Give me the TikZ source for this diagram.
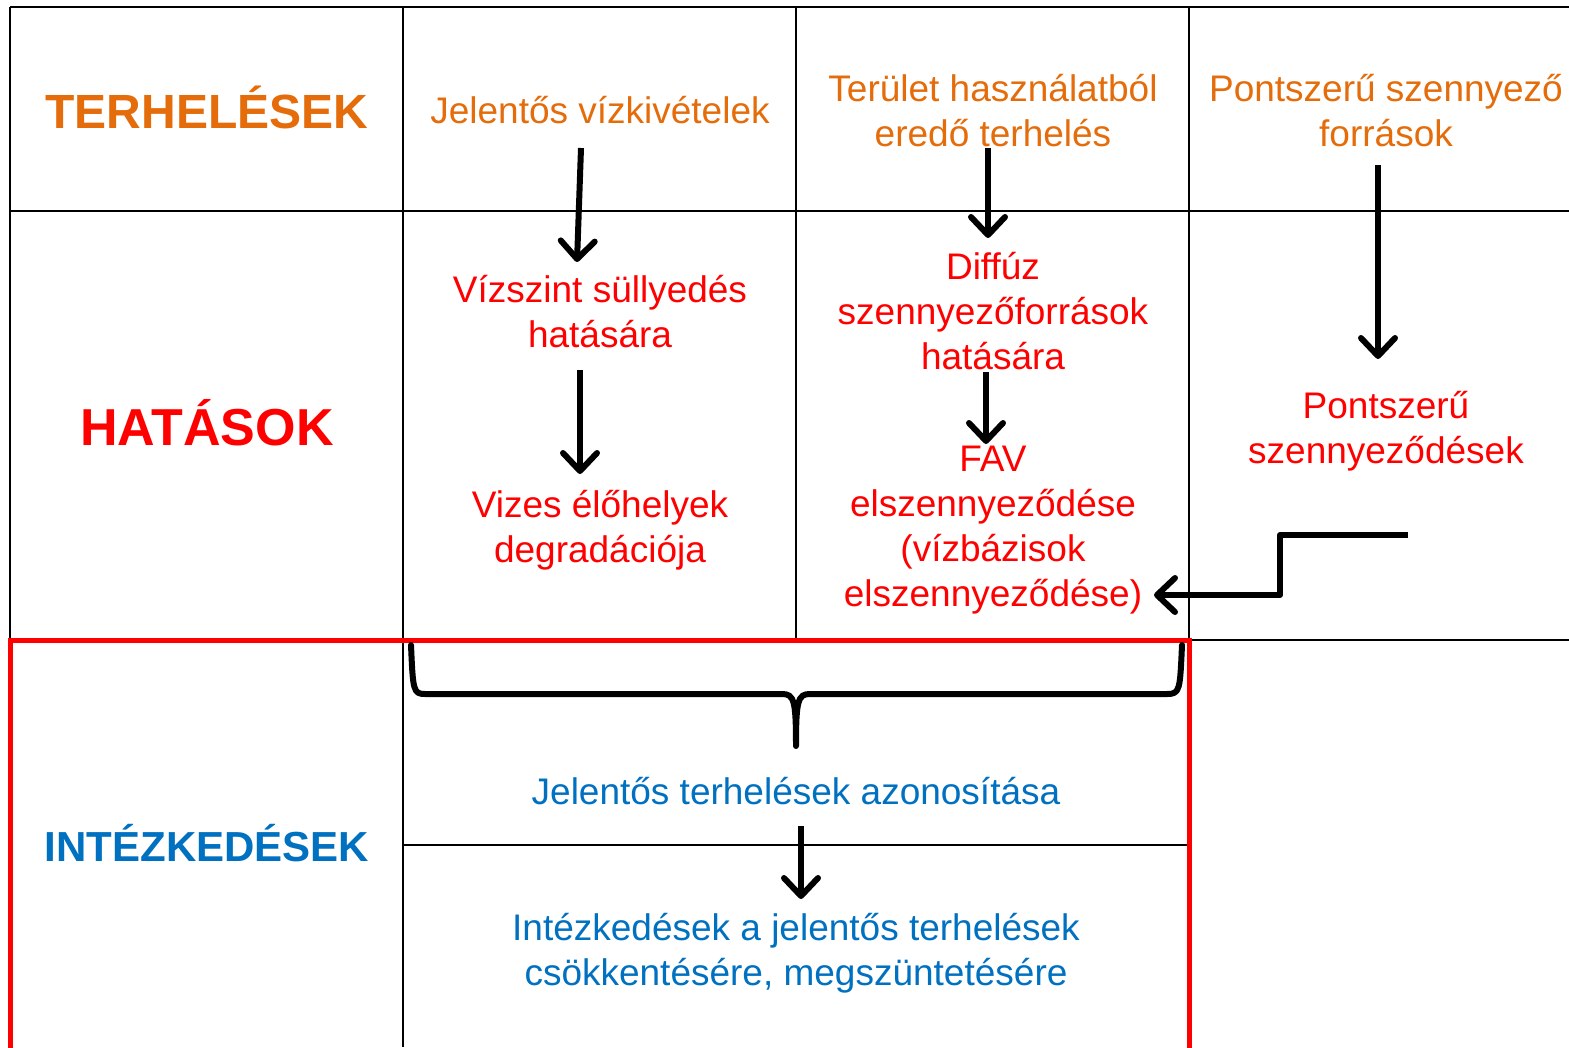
\documentclass[tikz,border=0pt]{standalone}
\usepackage{fontspec}
\setmainfont{Liberation Sans}
\usetikzlibrary{arrows.meta}
\definecolor{terhorange}{HTML}{E46C0A}
\definecolor{hatred}{HTML}{FF0000}
\definecolor{intblue}{HTML}{0070C0}

\begin{document}
\begin{tikzpicture}[x=1pt, y=-1pt,
        gridline/.style={line width=2pt},
        header/.style={inner sep=0pt, font=\bfseries\fontsize{48}{58}\selectfont},
        cell/.style={inner sep=0pt, align=center, font=\fontsize{37}{45}\selectfont},
        arr/.style={line width=6pt, line join=round, -{Straight Barb[length=18pt,width=34pt,round]}}]
        \useasboundingbox (0,0) rectangle (1569,1047);

        % table
        \draw[gridline] (10,7) -- (1569,7);
        \draw[gridline] (10,211) -- (1569,211);
        \draw[gridline] (1189,640) -- (1569,640);
        \draw[gridline] (403,845) -- (1189,845);
        \draw[gridline] (10,7) -- (10,640);
        \draw[gridline] (403,7) -- (403,1047);
        \draw[gridline] (796,7) -- (796,640);
        \draw[gridline] (1189,7) -- (1189,640);
        \draw[hatred, line width=5pt] (10,1060) -- (10,640) -- (1189,640) -- (1189,1060);

        % row headers
        \node[header, text=terhorange] (terh) at (207,107) {TERHELÉSEK};
        \node[header, text=hatred, font=\bfseries\fontsize{52}{62}\selectfont] (hat) at (207,423) {HATÁSOK};
        \node[header, text=intblue, font=\bfseries\fontsize{42}{50}\selectfont] (intez) at (207,843) {INTÉZKEDÉSEK};

        % terhelesek
        \node[cell, text=terhorange] (vizkiv) at (600,110) {Jelentős vízkivételek};
        \node[cell, text=terhorange] (terulet) at (993,111) {Terület használatból\\eredő terhelés};
        \node[cell, text=terhorange] (pontforr) at (1386,111) {Pontszerű szennyező\\források};

        % hatasok
        \node[cell, text=hatred] (vizszint) at (600,312) {Vízszint süllyedés\\hatására};
        \node[cell, text=hatred] (vizes) at (600,530) {Vizes élőhelyek\\degradációja};
        \node[cell, text=hatred] (diffuz) at (993,311) {Diffúz\\szennyezőforrások\\hatására};
        \node[cell, text=hatred] (fav) at (993,530) {FAV\\elszennyeződése\\(vízbázisok\\elszennyeződése)};
        \node[cell, text=hatred] (pontszenny) at (1386,431) {Pontszerű\\szennyeződések};

        % intezkedesek
        \node[cell, text=intblue] (azon) at (796,791) {Jelentős terhelések azonosítása};
        \node[cell, text=intblue] (csokk) at (796,953) {Intézkedések a jelentős terhelések\\csökkentésére, megszüntetésére};

        % arrow ends
        \coordinate (a1s) at (581,148);
        \coordinate (a1e) at (577,262);
        \coordinate (a2s) at (580,370);
        \coordinate (a2e) at (580,474);
        \coordinate (a3s) at (988,148);
        \coordinate (a3e) at (988,238);
        \coordinate (a4s) at (1378,165);
        \coordinate (a4e) at (1378,359);
        \coordinate (a5s) at (986,372);
        \coordinate (a5e) at (986,444);
        \coordinate (a6s) at (1408,535);
        \coordinate (a6m) at (1280,595);
        \coordinate (a6e) at (1154,595);
        \coordinate (a7s) at (801,826);
        \coordinate (a7e) at (801,899);

        \draw[arr] (a1s) -- (a1e);
        \draw[arr] (a2s) -- (a2e);
        \draw[arr] (a3s) -- (a3e);
        \draw[arr] (a4s) -- (a4e);
        \draw[arr] (a5s) -- (a5e);
        \draw[arr] (a6s) -| (a6m) -- (a6e);
        \draw[arr] (a7s) -- (a7e);

        % brace
        \coordinate (brl) at (411,645);
        \coordinate (brm) at (796,746);
        \coordinate (brr) at (1182,645);
        \draw[line width=6pt, line cap=round, line join=round]
            (brl) .. controls (413,690) and (413,694) .. (425,694)
            -- (782,694) .. controls (794,694) and (796,700) .. (brm)
            .. controls (796,700) and (798,694) .. (810,694)
            -- (1167,694) .. controls (1180,694) and (1180,690) .. (brr);

    \end{tikzpicture}
\end{document}
